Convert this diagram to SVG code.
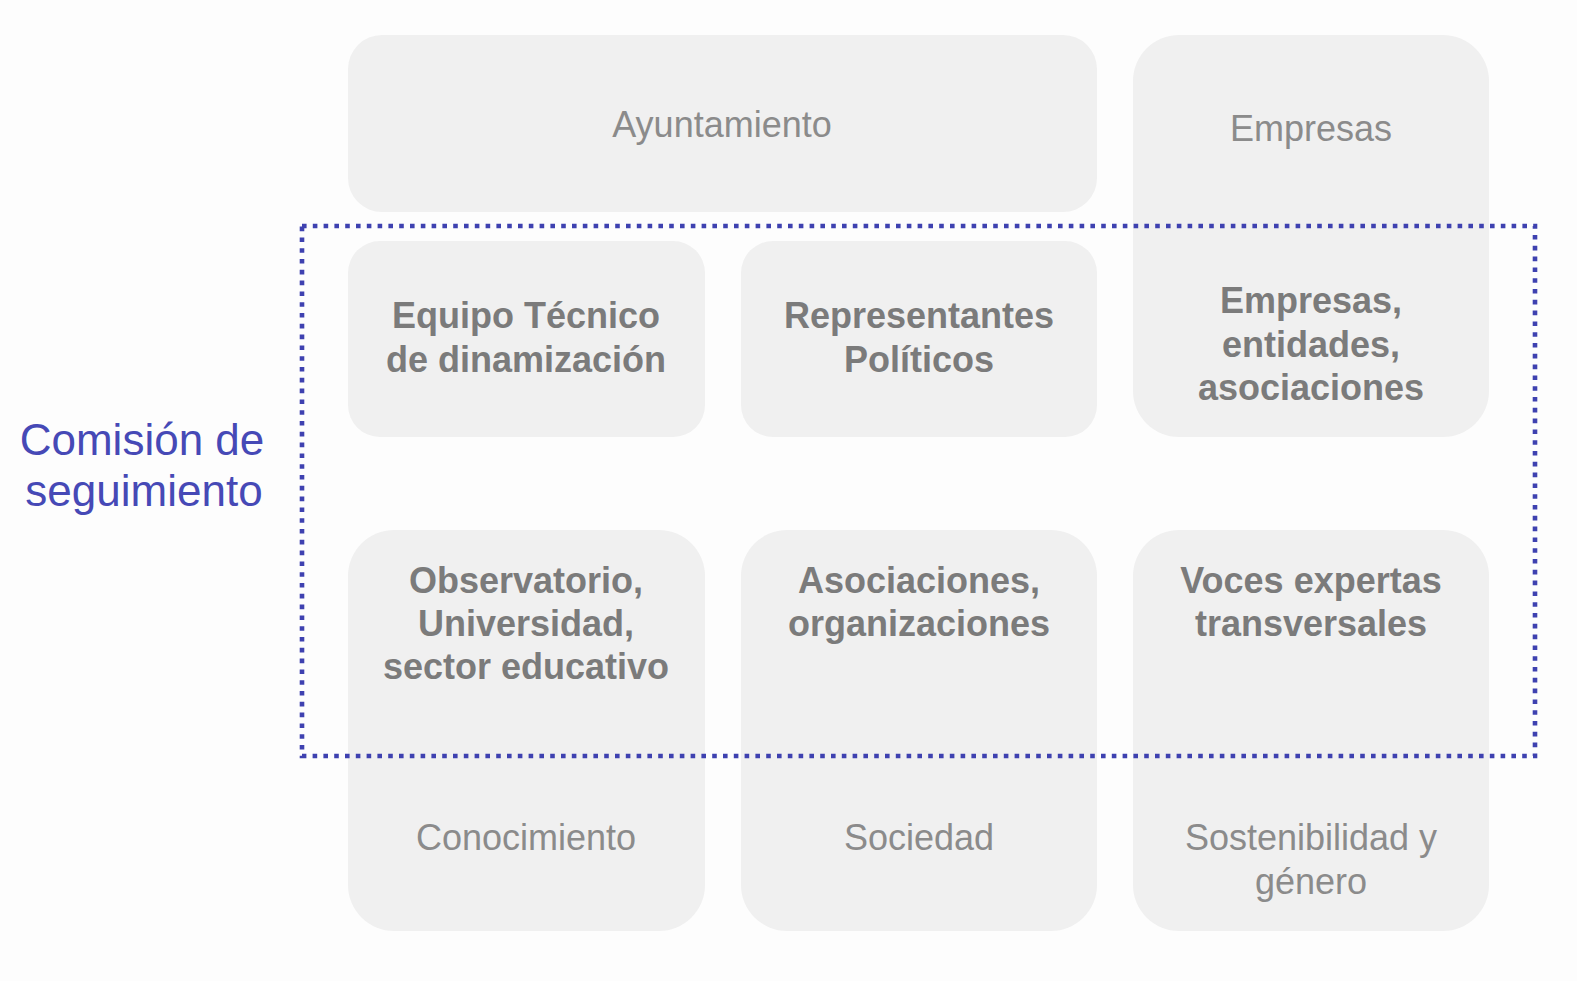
<svg xmlns="http://www.w3.org/2000/svg" width="1577" height="981" viewBox="0 0 1577 981">
<style>
.box{fill:#f0f0f0}
.t{font-family:"Liberation Sans",Arial,Helvetica,sans-serif;font-size:36px;fill:#8b8b8b;text-anchor:middle}
.b{font-weight:bold;fill:#7b7b7b}
.blue{font-family:"Liberation Sans",Arial,Helvetica,sans-serif;font-size:44px;fill:#4649b6;text-anchor:middle}
.dot{fill:none;stroke:#3e41b0;stroke-width:4.6;stroke-dasharray:4.6 6.2}
</style>
<rect width="1577" height="981" fill="#fdfdfd"/>
<g id="ayuntamiento">
<rect class="box" x="348" y="35" width="749" height="177" rx="34"/>
<text class="t" x="722" y="137">Ayuntamiento</text>
</g>
<g id="empresas">
<rect class="box" x="1133" y="35" width="356" height="402" rx="46"/>
<text class="t" x="1311" y="141">Empresas</text>
<text class="t b" x="1311" y="313">Empresas,</text>
<text class="t b" x="1311" y="357">entidades,</text>
<text class="t b" x="1311" y="400">asociaciones</text>
</g>
<g id="equipo">
<rect class="box" x="348" y="241" width="357" height="196" rx="32"/>
<text class="t b" x="526" y="328">Equipo Técnico</text>
<text class="t b" x="526" y="372">de dinamización</text>
</g>
<g id="representantes">
<rect class="box" x="741" y="241" width="356" height="196" rx="32"/>
<text class="t b" x="919" y="328">Representantes</text>
<text class="t b" x="919" y="372">Políticos</text>
</g>
<g id="conocimiento">
<rect class="box" x="348" y="530" width="357" height="401" rx="46"/>
<text class="t b" x="526" y="593">Observatorio,</text>
<text class="t b" x="526" y="636">Universidad,</text>
<text class="t b" x="526" y="679">sector educativo</text>
<text class="t" x="526" y="850">Conocimiento</text>
</g>
<g id="sociedad">
<rect class="box" x="741" y="530" width="356" height="401" rx="46"/>
<text class="t b" x="919" y="593">Asociaciones,</text>
<text class="t b" x="919" y="636">organizaciones</text>
<text class="t" x="919" y="850">Sociedad</text>
</g>
<g id="sostenibilidad">
<rect class="box" x="1133" y="530" width="356" height="401" rx="46"/>
<text class="t b" x="1311" y="593">Voces expertas</text>
<text class="t b" x="1311" y="636">transversales</text>
<text class="t" x="1311" y="850">Sostenibilidad y</text>
<text class="t" x="1311" y="894">género</text>
</g>
<g id="comision">
<rect class="dot" x="302" y="226" width="1233" height="530"/>
<text class="blue" x="142" y="455">Comisión de</text>
<text class="blue" x="144" y="506">seguimiento</text>
</g>
<g id="connectors"></g>
</svg>
